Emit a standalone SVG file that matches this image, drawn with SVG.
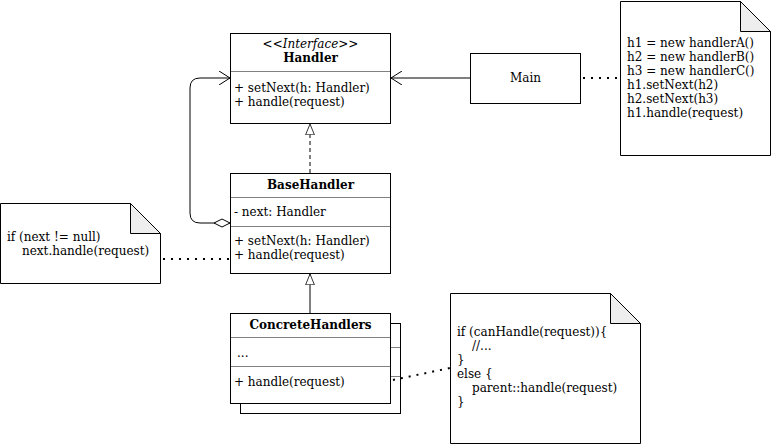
<svg xmlns="http://www.w3.org/2000/svg" width="771" height="444" viewBox="0 0 771 444">
<style>
text{font-family:"DejaVu Serif",serif;font-size:12px;fill:#000}
.b{font-weight:bold}
.i{font-style:italic}
.box{fill:#fff;stroke:#000;stroke-width:1}
.div{stroke:#808080;stroke-width:1}
.ln{fill:none;stroke:#000;stroke-width:1}
.dot{fill:none;stroke:#000;stroke-width:2;stroke-dasharray:2 6}
.fold{fill:#eee;stroke:#000;stroke-width:1}
</style>
<defs>
<marker id="open" markerWidth="12" markerHeight="14" refX="11" refY="7" orient="auto" markerUnits="userSpaceOnUse">
<path d="M0,0 L11,7 L0,14" fill="none" stroke="#000"/>
</marker>
<marker id="tri" markerWidth="12" markerHeight="16" refX="14" refY="6" orient="auto" markerUnits="userSpaceOnUse" viewBox="0 0 15 12">
<path d="M0.5,0.5 L14,6 L0.5,11.5 Z" fill="#fff" stroke="#000"/>
</marker>
<marker id="dia" markerWidth="18" markerHeight="10" refX="0.5" refY="5" orient="auto" markerUnits="userSpaceOnUse">
<path d="M0.5,5 L8.5,1 L16.5,5 L8.5,9 Z" fill="#fff" stroke="#000"/>
</marker>
</defs>
<g id="Handler">
<rect class="box" x="230.5" y="33.5" width="160" height="90"/>
<text class="i" x="310.5" y="48" text-anchor="middle">&lt;&lt;Interface&gt;&gt;</text>
<text class="b" x="310.5" y="62" text-anchor="middle">Handler</text>
<line class="div" x1="231" y1="71.5" x2="390" y2="71.5"/>
<text x="234" y="92">+ setNext(h: Handler)</text>
<text x="234" y="106">+ handle(request)</text>
</g>
<g id="BaseHandler">
<rect class="box" x="230.5" y="173.5" width="160" height="100"/>
<text class="b" x="310.5" y="189" text-anchor="middle">BaseHandler</text>
<line class="div" x1="231" y1="197.5" x2="390" y2="197.5"/>
<text x="234" y="216">- next: Handler</text>
<line class="div" x1="231" y1="226.5" x2="390" y2="226.5"/>
<text x="234" y="245">+ setNext(h: Handler)</text>
<text x="234" y="259">+ handle(request)</text>
</g>
<g id="ConcreteHandlers">
<rect class="box" x="240.5" y="323.5" width="160" height="90"/>
<line class="div" x1="390" y1="347.5" x2="400" y2="347.5"/>
<line class="div" x1="390" y1="376.5" x2="400" y2="376.5"/>
<rect class="box" x="230.5" y="313.5" width="160" height="90"/>
<text class="b" x="310.5" y="329" text-anchor="middle">ConcreteHandlers</text>
<line class="div" x1="231" y1="337.5" x2="390" y2="337.5"/>
<text x="237" y="357">...</text>
<line class="div" x1="231" y1="366.5" x2="390" y2="366.5"/>
<text x="234" y="386">+ handle(request)</text>
</g>
<g id="Main">
<rect class="box" x="470.5" y="53.5" width="110" height="50"/>
<text x="525.5" y="82" text-anchor="middle">Main</text>
</g>
<g id="note-main">
<path class="box" d="M620.5,1.5 L740.5,1.5 L770.5,31.5 L770.5,155.5 L620.5,155.5 Z"/>
<path class="fold" d="M740.5,1.5 L740.5,31.5 L770.5,31.5 Z"/>
<text x="627" y="47">h1 = new handlerA()</text>
<text x="627" y="61">h2 = new handlerB()</text>
<text x="627" y="75">h3 = new handlerC()</text>
<text x="627" y="89">h1.setNext(h2)</text>
<text x="627" y="103">h2.setNext(h3)</text>
<text x="627" y="117">h1.handle(request)</text>
</g>
<g id="note-base">
<path class="box" d="M0.5,203.5 L130.5,203.5 L160.5,233.5 L160.5,283.5 L0.5,283.5 Z"/>
<path class="fold" d="M130.5,203.5 L130.5,233.5 L160.5,233.5 Z"/>
<text x="7" y="241">if (next != null)</text>
<text x="22" y="255">next.handle(request)</text>
</g>
<g id="note-concrete">
<path class="box" d="M450.5,293.5 L610.5,293.5 L640.5,323.5 L640.5,443.5 L450.5,443.5 Z"/>
<path class="fold" d="M610.5,293.5 L610.5,323.5 L640.5,323.5 Z"/>
<text x="457" y="336">if (canHandle(request)){</text>
<text x="472" y="350">//...</text>
<text x="457" y="364">}</text>
<text x="457" y="378">else {</text>
<text x="472" y="392">parent::handle(request)</text>
<text x="457" y="406">}</text>
</g>
<g id="connectors">
<line class="ln" x1="470" y1="78" x2="391" y2="78" marker-end="url(#open)"/>
<line class="dot" x1="583" y1="78" x2="620" y2="78"/>
<line class="ln" x1="310" y1="173" x2="310" y2="124" stroke-dasharray="4 3" marker-end="url(#tri)"/>
<line class="ln" x1="310" y1="313" x2="310" y2="274" marker-end="url(#tri)"/>
<path class="ln" d="M230,223 L200,223 Q190,223 190,213 L190,88 Q190,78 200,78 L230,78" marker-start="url(#dia)" marker-end="url(#open)"/>
<line class="dot" x1="163" y1="259" x2="230" y2="259"/>
<line class="dot" x1="393" y1="380" x2="450" y2="368"/>
</g>
</svg>
